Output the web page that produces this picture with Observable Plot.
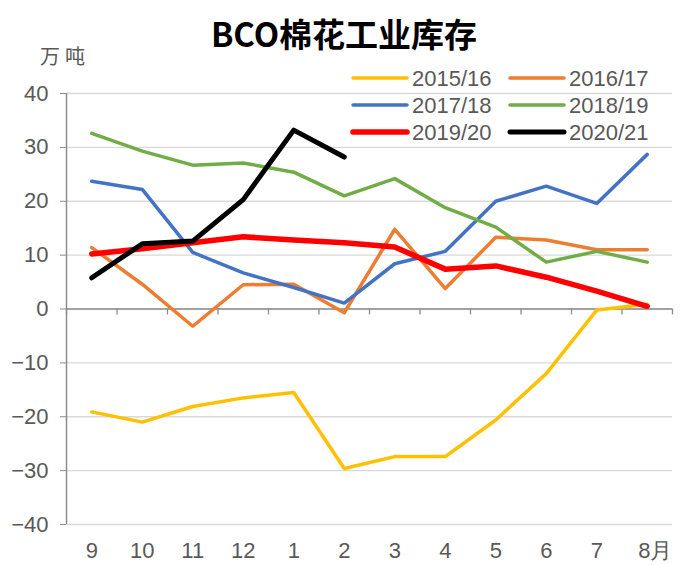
<!DOCTYPE html>
<html>
<head>
<meta charset="utf-8">
<script src="https://cdn.jsdelivr.net/npm/d3@7"></script>
<script src="https://cdn.jsdelivr.net/npm/@observablehq/plot@0.6"></script>
<style>
  html, body { margin: 0; padding: 0; background: #fff; }
  #chart svg { display: block; }
</style>
</head>
<body>
<div id="chart"></div>
<script>
// ---- data ----
const months = ["9", "10", "11", "12", "1", "2", "3", "4", "5", "6", "7", "8月"];
const yTicks = [-40, -30, -20, -10, 0, 10, 20, 30, 40];
const seriesNames = ["2015/16", "2016/17", "2017/18", "2018/19", "2019/20", "2020/21"];
const s2015 = [-19.1, -21.0, -18.1, -16.5, -15.5, -29.6, -27.4, -27.4, -20.6, -12.0, -0.2, 0.9];
const s2016 = [11.4, 4.6, -3.2, 4.5, 4.6, -0.7, 14.8, 3.8, 13.3, 12.8, 11.0, 11.0];
const s2017 = [23.7, 22.2, 10.5, 6.7, 4.0, 1.1, 8.4, 10.7, 20.0, 22.8, 19.6, 28.7];
const s2018 = [32.6, 29.3, 26.7, 27.1, 25.4, 21.0, 24.2, 18.8, 15.2, 8.7, 10.7, 8.7];
const s2019 = [10.2, 11.2, 12.3, 13.4, 12.8, 12.3, 11.5, 7.4, 8.0, 5.9, 3.3, 0.5];
const s2020 = [5.8, 12.1, 12.6, 20.3, 33.2, 28.2];
const seriesValues = [s2015, s2016, s2017, s2018, s2019, s2020];
const colors = ["#FFC000", "#ED7D31", "#4472C4", "#70AD47", "#FF0000", "#000000"];
const widths = [3.5, 3.5, 3.5, 3.5, 5.5, 5];

// ---- build table ----
const rows = [];
seriesValues.forEach((vals, si) => {
  vals.forEach((v, i) => rows.push({series: seriesNames[si], xi: i + 0.5, v}));
});

const font = "'Liberation Sans', Arial, sans-serif";
const axisColor = "#8c8c8c";
const textColor = "#595959";

const lineMarks = seriesNames.map((name, si) =>
  Plot.line(rows.filter(r => r.series === name), {
    x: "xi", y: "v", stroke: colors[si], strokeWidth: widths[si],
    strokeLinejoin: "round", strokeLinecap: "round"
  })
);

const xPositions = d3.range(months.length).map(i => i + 0.5);
const xAxisOpts = {
  tickSize: 0, tickPadding: 18, fill: textColor, fontSize: 22, label: null,
  tickFormat: d => months[Math.floor(d)]
};

const plot = Plot.plot({
  width: 681,
  height: 565,
  marginLeft: 66,
  marginRight: 9,
  marginTop: 93,
  marginBottom: 41,
  style: {fontFamily: font, background: "#fff"},
  x: {type: "linear", domain: [0, months.length], axis: null, label: null},
  y: {domain: [-40, 40], axis: null, label: null},
  marks: [
    Plot.gridY(yTicks, {stroke: "#d9d9d9", strokeOpacity: 1, strokeWidth: 1.3}),
    Plot.ruleY([0], {stroke: axisColor, strokeWidth: 1.5}),
    Plot.ruleX([0], {stroke: axisColor, strokeWidth: 1.5}),
    Plot.axisY(yTicks, {
      tickSize: 6, tickPadding: 12, stroke: axisColor, fill: textColor, label: null,
      fontSize: 22, tickFormat: d => d3.format("d")(d).replace("-", "\u2212")
    }),
    Plot.ruleX(d3.range(months.length + 1), {y1: 0, y2: -1.1, stroke: axisColor, strokeWidth: 1.3}),
    Plot.axisX(xPositions.slice(0, -1), xAxisOpts),
    Plot.axisX(xPositions.slice(-1), {...xAxisOpts, dx: 8}),
    ...lineMarks
  ]
});

document.getElementById("chart").appendChild(plot);

// ---- title, unit and legend (layout, drawn inside the svg) ----
const svg = d3.select(plot);
svg.append("text")
  .attr("x", 344).attr("y", 33)
  .attr("text-anchor", "middle").attr("dominant-baseline", "central")
  .attr("font-family", "'Noto Sans CJK SC', sans-serif")
  .attr("font-weight", 700).attr("font-size", 33).attr("fill", "#000")
  .text("BCO棉花工业库存");

svg.append("text")
  .attr("x", 40).attr("y", 55)
  .attr("text-anchor", "start").attr("dominant-baseline", "central")
  .attr("font-family", "'Noto Sans CJK SC', sans-serif")
  .attr("font-size", 20).attr("letter-spacing", 5).attr("fill", textColor)
  .text("万吨");

const legCols = [353, 510];
const legRows = [78, 105, 132];
seriesNames.forEach((name, si) => {
  const cx = legCols[si % 2];
  const cy = legRows[Math.floor(si / 2)];
  const g = svg.append("g");
  g.append("line")
    .attr("x1", cx).attr("x2", cx + 54).attr("y1", cy).attr("y2", cy)
    .attr("stroke", colors[si]).attr("stroke-width", widths[si])
    .attr("stroke-linecap", "round");
  g.append("text")
    .attr("x", cx + 59).attr("y", cy)
    .attr("text-anchor", "start").attr("dominant-baseline", "central")
    .attr("font-family", font).attr("font-size", 22).attr("fill", textColor)
    .text(name);
});
</script>
</body>
</html>
